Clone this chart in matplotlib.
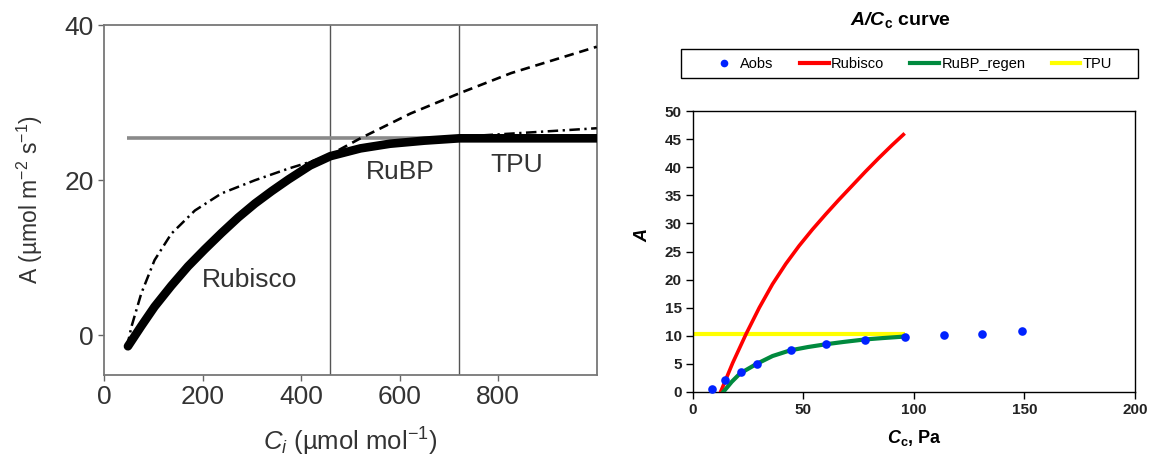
import matplotlib
matplotlib.use("Agg")
import matplotlib.pyplot as plt
from matplotlib.lines import Line2D
from matplotlib.patches import Rectangle

plt.rcParams['font.family'] = ['Liberation Sans', 'DejaVu Sans']
plt.rcParams['mathtext.fontset'] = 'custom'
plt.rcParams['mathtext.rm'] = 'Liberation Sans'
plt.rcParams['mathtext.it'] = 'Liberation Sans:italic'
plt.rcParams['mathtext.bf'] = 'Liberation Sans:bold'
plt.rcParams['mathtext.bfit'] = 'Liberation Sans:italic:bold'

# ---------------- Left panel data (A/Ci) ----------------
ci_limit = [48, 75, 102, 136, 170, 204, 238, 272, 306, 340, 374, 418, 459, 520, 580, 650, 721, 1000]
a_limit = [-1.4, 1.2, 3.7, 6.4, 8.9, 11.1, 13.2, 15.2, 17.0, 18.6, 20.1, 21.9, 23.1, 24.1, 24.7, 25.1, 25.4, 25.4]

ci_rubp = [46, 55, 75, 102, 136, 184, 238, 306, 374, 420, 459, 520, 622, 721, 850, 1000]
a_rubp = [-1.5, 1.1, 5.4, 9.7, 13.1, 16.1, 18.3, 20.0, 21.5, 22.4, 23.3, 24.3, 25.1, 25.6, 26.1, 26.7]

ci_rubisco = [420, 459, 520, 622, 721, 826, 1000]
a_rubisco = [22.2, 23.3, 25.4, 28.6, 31.2, 33.8, 37.2]

ci_tpu = [46, 1000]
a_tpu = [25.4, 25.4]

transitions = [459, 720]
left_xticks = [0, 200, 400, 600, 800]
left_yticks = [0, 20, 40]

# ---------------- Right panel data (A/Cc) ----------------
cc_obs = [8.4, 14.5, 21.6, 28.8, 44.2, 60.2, 77.8, 95.9, 113.5, 130.9, 148.8]
a_obs = [0.47, 2.1, 3.5, 4.9, 7.4, 8.6, 9.3, 9.8, 10.07, 10.3, 10.78]

cc_rub = [12.5, 18, 24, 30, 36, 42, 48, 54, 60, 66, 72, 78, 84, 90, 95.2]
a_rub = [0.0, 5.2, 10.3, 15.0, 19.2, 22.8, 26.0, 28.9, 31.6, 34.2, 36.7, 39.2, 41.6, 43.9, 45.8]

cc_regen = [13.7, 17.5, 21.3, 28.8, 36.0, 43.9, 52.0, 60.2, 68.0, 77.8, 86.0, 95.2]
a_regen = [0.0, 1.8, 3.3, 5.0, 6.4, 7.4, 8.0, 8.5, 8.9, 9.35, 9.6, 9.85]

cc_tpu = [0, 95.9]
a_tpu_r = [10.38, 10.38]

right_xticks = [0, 50, 100, 150, 200]
right_yticks = [0, 5, 10, 15, 20, 25, 30, 35, 40, 45, 50]

fig = plt.figure(figsize=(11.54, 4.72), dpi=100)

# ---------------- Left panel ----------------
axL = fig.add_axes([0.0904, 0.2055, 0.4267, 0.7415])
gray_txt = '#333333'
for x in transitions:
    axL.axvline(x, color='#555555', lw=1.0, zorder=1)
axL.plot(ci_tpu, a_tpu, color='#8a8a8a', lw=2.6, zorder=2, solid_capstyle='butt')
axL.plot(ci_rubisco, a_rubisco, color='black', lw=1.9, dashes=(3.6, 2.2), zorder=3)
axL.plot(ci_rubp, a_rubp, color='black', lw=1.8, dashes=(4.2, 1.8, 0.9, 1.8), zorder=3)
axL.plot(ci_limit, a_limit, color='black', lw=6.2, solid_capstyle='round',
         solid_joinstyle='round', zorder=4)

axL.text(294, 7.1, 'Rubisco', fontsize=19, color=gray_txt, ha='center', va='center')
axL.text(601, 21.1, 'RuBP', fontsize=19, color=gray_txt, ha='center', va='center')
axL.text(837, 21.9, 'TPU', fontsize=19, color=gray_txt, ha='center', va='center')

axL.set_xlim(0, 1000)
axL.set_ylim(-5.1, 40)
axL.set_xticks(left_xticks)
axL.set_yticks(left_yticks)
axL.tick_params(labelsize=19, colors='#666666', labelcolor=gray_txt, length=4, width=1, direction='out')
for s in axL.spines.values():
    s.set_color('#777777')
    s.set_linewidth(1.3)
axL.set_xlabel(r'$C_i$ (µmol mol$^{-1}$)', fontsize=18.5, color=gray_txt, labelpad=12)
axL.set_ylabel(r'A (µmol m$^{-2}$ s$^{-1}$)', fontsize=16.5, color=gray_txt, labelpad=14)

# ---------------- Right panel ----------------
axR = fig.add_axes([0.6005, 0.1695, 0.383, 0.5953])
axR.plot(cc_tpu, a_tpu_r, color='#ffff00', lw=3.0, zorder=2, solid_capstyle='butt')
axR.plot(cc_rub, a_rub, color='#ff0000', lw=2.6, zorder=3, solid_joinstyle='round')
axR.plot(cc_regen, a_regen, color='#008a3e', lw=3.0, zorder=3, solid_joinstyle='round')
axR.plot(cc_obs, a_obs, 'o', color='#0022ff', markersize=6.2, markeredgewidth=0, zorder=5, clip_on=False)

axR.set_xlim(0, 200)
axR.set_ylim(0, 50)
axR.set_xticks(right_xticks)
axR.set_yticks(right_yticks)
axR.tick_params(direction='out', length=5, width=1, labelsize=11, pad=3)
for lab in axR.get_xticklabels() + axR.get_yticklabels():
    lab.set_fontweight('bold')
    lab.set_color('#222222')
for s in axR.spines.values():
    s.set_color('black')
    s.set_linewidth(1.0)
axR.set_xlabel(r'$\bfit{C}_{\mathbf{c}}$, Pa', fontsize=13, fontweight='bold', labelpad=8)
axR.set_ylabel(r'$\bfit{A}$', fontsize=13)
axR.yaxis.set_label_coords(-0.095, 0.56)

fig.text(0.780, 0.957, r'$\bfit{A/C}_{\mathbf{c}}$ curve', fontsize=14, fontweight='bold',
         ha='center', va='center')

handles = [
    Line2D([], [], marker='o', linestyle='none', color='#0022ff', markersize=5.5, markeredgewidth=0),
    Line2D([], [], color='#ff0000', lw=3),
    Line2D([], [], color='#008a3e', lw=3),
    Line2D([], [], color='#ffff00', lw=3),
]
labels = ['Aobs', 'Rubisco', 'RuBP_regen', 'TPU']
fig.legend(handles, labels, loc='center', bbox_to_anchor=(0.7892, 0.8648), ncol=4,
           frameon=False, fontsize=10.5, handlelength=1.95, handletextpad=0.17,
           columnspacing=1.8, borderpad=0)
fig.patches.append(Rectangle((680.7 / 1154, 1 - 78.3 / 472), (1138.3 - 680.7) / 1154, 29 / 472,
                             transform=fig.transFigure, fill=False, edgecolor='black', lw=1.0))

fig.savefig('out.png', dpi=100)
